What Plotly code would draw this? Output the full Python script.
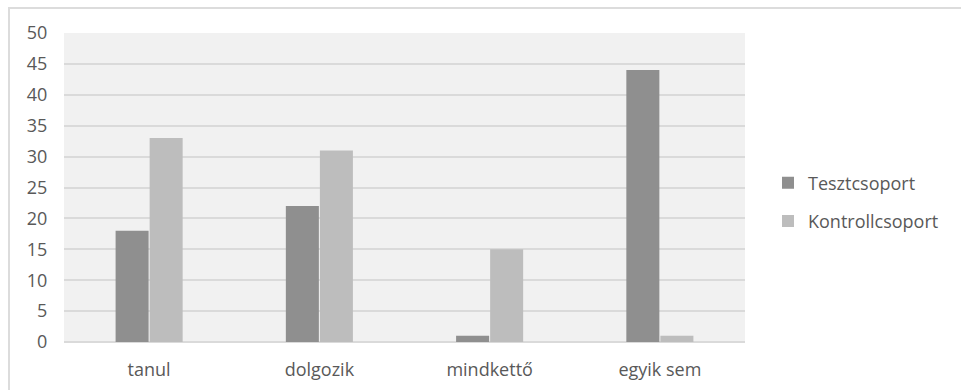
import plotly.graph_objects as go

categories = ["tanul", "dolgozik", "mindkettő", "egyik sem"]
teszt = [18, 22, 1, 44]
kontroll = [33, 31, 15, 1]
series_names = ["Tesztcsoport", "Kontrollcsoport"]
y_ticks = [0, 5, 10, 15, 20, 25, 30, 35, 40, 45, 50]

W, H = 961, 390
ML, MR, MT, MB = 64, 216, 33, 48
PW = W - ML - MR
PH = H - MT - MB

fig = go.Figure()
fig.add_trace(go.Bar(x=categories, y=teszt, name=series_names[0],
                     marker=dict(color="#8f8f8f", line=dict(width=0)),
                     legendgroup="a"))
fig.add_trace(go.Bar(x=categories, y=kontroll, name=series_names[1],
                     marker=dict(color="#bdbdbd", line=dict(width=0)),
                     legendgroup="b"))

font_family = "Open Sans, sans-serif"
fig.update_layout(
    width=W, height=H,
    margin=dict(l=ML, r=MR, t=MT, b=MB, autoexpand=False),
    paper_bgcolor="white",
    plot_bgcolor="#f1f1f1",
    barmode="group",
    bargap=0.6,
    bargroupgap=0.03,
    font=dict(family=font_family, size=18, color="#595959"),
    showlegend=True,
    legend=dict(x=1.0 + (768 - 745) / PW, xanchor="left",
                y=(342 - 202) / PH, yanchor="middle",
                font=dict(size=18, color="#595959"),
                tracegroupgap=12, traceorder="grouped",
                itemwidth=30, bgcolor="rgba(0,0,0,0)"),
    xaxis=dict(showgrid=False, showline=False, ticks="outside", ticklen=11,
               automargin=False,
               tickcolor="rgba(0,0,0,0)", tickfont=dict(size=18, color="#595959")),
    yaxis=dict(range=[0, 50], tickvals=y_ticks, showgrid=True, automargin=False,
               gridcolor="#dadada", gridwidth=2, zeroline=True,
               zerolinecolor="#dadada", zerolinewidth=2, showline=False,
               ticks="outside", ticklen=12, tickcolor="rgba(0,0,0,0)",
               tickfont=dict(size=18, color="#595959")),
    shapes=[dict(type="rect", xref="paper", yref="paper",
                 x0=(9 - ML) / PW, x1=(W + 20 - ML) / PW,
                 y0=-(H + 20 - (H - MB)) / PH, y1=1 + (MT - 8) / PH,
                 line=dict(color="#dcdcdc", width=2), layer="below")],
)

fig.write_html("out.html")
